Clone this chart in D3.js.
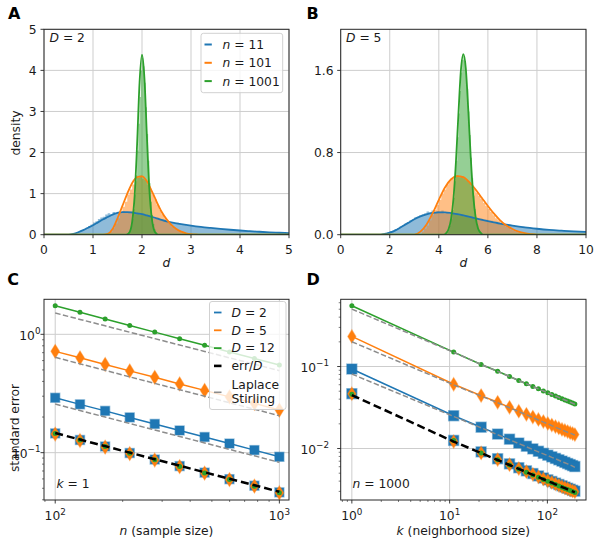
<!DOCTYPE html>
<html><head><meta charset="utf-8">
<script src="https://cdn.jsdelivr.net/npm/d3@7"></script>
<style>body{margin:0;background:#fff}svg{display:block}text{font-family:"DejaVu Sans",sans-serif}</style>
</head><body><svg id="fig" width="600" height="544"></svg>
<script>
// ---------------- DATA ----------------
// Panel A (D = 2): density curves
const aBlueD = [0,0.5,0.6,0.7,0.8,0.9,1.0,1.1,1.2,1.3,1.4,1.5,1.6,1.7,1.8,1.9,2.0,2.1,2.2,2.3,2.4,2.5,2.6,2.7,2.8,2.9,3.0,3.2,3.4,3.6,3.8,4.0,4.2,4.4,4.6,4.8,5.0];
const aBlueY = [0,0,0.02,0.06,0.11,0.17,0.23,0.30,0.37,0.43,0.49,0.53,0.55,0.55,0.54,0.52,0.50,0.468,0.435,0.40,0.36,0.325,0.30,0.277,0.256,0.237,0.22,0.19,0.165,0.142,0.121,0.102,0.086,0.072,0.059,0.048,0.038];
const aOrangeD = [0,1.2,1.3,1.4,1.5,1.6,1.7,1.8,1.9,2.0,2.1,2.2,2.3,2.4,2.5,2.6,2.7,2.8,2.9,3.0,3.1,3.2,5];
const aOrangeY = [0,0,0.02,0.14,0.40,0.70,1.00,1.26,1.40,1.42,1.30,1.06,0.80,0.56,0.38,0.24,0.14,0.075,0.035,0.015,0.005,0,0];
const aGreenD = [0,1.65,1.70,1.75,1.80,1.85,1.90,1.95,2.00,2.05,2.10,2.15,2.20,2.25,2.30,2.35,5];
const aGreenY = [0,0,0.01,0.07,0.32,0.95,2.20,3.70,4.38,3.80,2.40,1.10,0.40,0.10,0.02,0,0];
// Panel A histograms (bin start, bin width, heights)
const aHistBlueStart = 0.55, aHistBlueWidth = 0.05;
const aHistBlue = [0.01,0.03,0.05,0.08,0.10,0.14,0.17,0.21,0.25,0.30,0.33,0.38,0.42,0.44,0.49,0.52,0.50,0.55,0.53,0.56,0.54,0.57,0.53,0.55,0.52,0.55,0.50,0.52,0.48,0.49,0.46,0.47,0.43,0.44,0.40,0.41,0.37,0.36,0.34,0.33,0.30,0.31,0.28,0.29,0.26,0.25,0.25,0.23,0.22,0.23,0.20,0.21,0.19,0.18,0.19,0.17,0.17,0.16,0.15,0.16,0.14,0.14,0.13,0.13,0.12,0.12,0.11,0.11,0.10,0.10,0.09,0.09,0.085,0.08,0.08,0.075,0.07,0.07,0.065,0.06,0.06,0.055,0.05,0.05,0.048,0.045,0.042,0.04,0.038];
const aHistOrangeStart = 1.30, aHistOrangeWidth = 0.05;
const aHistOrange = [0.03,0.08,0.16,0.27,0.40,0.52,0.68,0.80,0.98,1.10,1.22,1.30,1.38,1.44,1.36,1.33,1.22,1.12,0.98,0.86,0.72,0.60,0.50,0.40,0.33,0.26,0.20,0.15,0.11,0.08,0.05,0.03,0.02,0.01];
const aHistGreenStart = 1.70, aHistGreenWidth = 0.025;
const aHistGreen = [0.03,0.06,0.12,0.22,0.38,0.62,0.98,1.45,2.05,2.70,3.35,4.00,4.30,4.10,3.70,3.10,2.45,1.80,1.25,0.80,0.48,0.26,0.13,0.06,0.02];

// Panel B (D = 5): density curves
const bBlueD = [0,1.5,1.75,2.0,2.25,2.5,2.75,3.0,3.25,3.5,3.75,4.0,4.25,4.5,4.75,5.0,5.5,6.0,6.5,7.0,7.5,8.0,8.5,9.0,9.5,10.0];
const bBlueY = [0,0,0.005,0.02,0.045,0.08,0.115,0.15,0.178,0.198,0.212,0.218,0.217,0.21,0.20,0.188,0.16,0.133,0.108,0.088,0.071,0.058,0.047,0.039,0.032,0.027];
const bOrangeD = [0,3.0,3.25,3.5,3.75,4.0,4.25,4.5,4.75,5.0,5.25,5.5,5.75,6.0,6.25,6.5,6.75,7.0,7.25,7.5,7.75,8.0,10];
const bOrangeY = [0,0,0.03,0.10,0.21,0.34,0.46,0.54,0.57,0.56,0.51,0.44,0.36,0.28,0.205,0.14,0.09,0.055,0.03,0.015,0.006,0,0];
const bGreenD = [0,4.2,4.3,4.4,4.5,4.6,4.7,4.8,4.9,5.0,5.1,5.2,5.3,5.4,5.5,5.6,5.7,5.8,10];
const bGreenY = [0,0,0.015,0.055,0.155,0.36,0.72,1.18,1.60,1.757,1.62,1.22,0.76,0.39,0.17,0.06,0.02,0,0];
const bHistBlueStart = 1.5, bHistBlueWidth = 0.1;
const bHistBlue = [0.005,0.008,0.012,0.02,0.025,0.035,0.04,0.055,0.065,0.08,0.09,0.11,0.12,0.14,0.15,0.17,0.175,0.19,0.20,0.21,0.225,0.215,0.235,0.22,0.23,0.225,0.235,0.21,0.22,0.205,0.215,0.20,0.205,0.19,0.195,0.18,0.185,0.17,0.175,0.16,0.165,0.15,0.155,0.14,0.145,0.13,0.135,0.12,0.125,0.11,0.115,0.10,0.105,0.095,0.09,0.092,0.082,0.085,0.075,0.078,0.07,0.068,0.065,0.06,0.062,0.055,0.057,0.05,0.052,0.047,0.045,0.046,0.041,0.042,0.038,0.039,0.035,0.036,0.033,0.033,0.031,0.03,0.029,0.028,0.027];
const bHistOrangeStart = 3.2, bHistOrangeWidth = 0.1;
const bHistOrange = [0.01,0.03,0.06,0.09,0.14,0.19,0.24,0.29,0.34,0.40,0.44,0.49,0.52,0.55,0.54,0.58,0.56,0.57,0.55,0.53,0.51,0.47,0.45,0.41,0.38,0.35,0.31,0.28,0.25,0.22,0.19,0.16,0.14,0.12,0.10,0.08,0.065,0.05,0.04,0.03,0.022,0.015,0.01,0.006];
const bHistGreenStart = 4.3, bHistGreenWidth = 0.05;
const bHistGreen = [0.01,0.03,0.05,0.09,0.15,0.24,0.36,0.52,0.72,0.95,1.18,1.40,1.58,1.70,1.74,1.69,1.58,1.42,1.20,0.97,0.75,0.55,0.38,0.25,0.16,0.09,0.05,0.03,0.01];

// Panel C (k = 1): standard error vs sample size n
const cN = [100,129,167,215,278,359,464,599,774,1000];
const cD2 = [0.291,0.256,0.2255,0.1986,0.1749,0.154,0.1356,0.1194,0.1051,0.0923];
const cD5 = [0.718,0.633,0.557,0.491,0.433,0.381,0.336,0.296,0.261,0.229];
const cD12 = [1.745,1.535,1.35,1.187,1.044,0.918,0.807,0.71,0.625,0.55];
const cLap2 = [0.2575,0.227,0.2001,0.1764,0.1555,0.1371,0.1209,0.1066,0.094,0.0828];
const cLap5 = [0.639,0.563,0.496,0.437,0.385,0.34,0.30,0.264,0.233,0.205];
const cLap12 = [1.514,1.337,1.18,1.042,0.92,0.812,0.717,0.633,0.559,0.493];
const cErrD = [0.1465,0.129,0.1136,0.1,0.0881,0.0776,0.0683,0.0602,0.053,0.0467];
const cScaled2 = [0.1455,0.128,0.1128,0.0993,0.0875,0.077,0.0678,0.0597,0.0526,0.0462];
const cScaled5 = [0.1436,0.1266,0.1114,0.0982,0.0866,0.0762,0.0672,0.0592,0.0522,0.0458];
const cScaled12 = [0.1454,0.1279,0.1125,0.0989,0.087,0.0765,0.0673,0.0592,0.0521,0.0458];

// Panel D (n = 1000): standard error vs neighborhood size k
const dK = [1,11,21,31,41,51,61,71,81,91,101,111,121,131,141,151,161,171,181,191];
const dD2 = [0.0932,0.0251,0.0182,0.015,0.013,0.01166,0.01067,0.00989,0.00926,0.00873,0.00829,0.00791,0.00757,0.00728,0.00702,0.00678,0.00656,0.00637,0.00619,0.00603];
const dD5 = [0.233,0.0608,0.0442,0.0366,0.0318,0.0285,0.0261,0.0242,0.0226,0.0213,0.0202,0.0193,0.0185,0.0178,0.0171,0.0166,0.0161,0.0156,0.0152,0.0148];
const dD12 = [0.551,0.150,0.106,0.0875,0.0755,0.0675,0.0616,0.0571,0.0534,0.0504,0.0479,0.0456,0.0437,0.042,0.0405,0.0391,0.0379,0.0368,0.0358,0.0348];
const dLap2 = [0.081,0.0246,0.0179,0.0147,0.0128,0.0115,0.0105,0.0097,0.0091,0.0086,0.0082,0.0078,0.0075,0.0072,0.0069,0.0067,0.0065,0.0063,0.0061,0.0059];
const dLap5 = [0.2005,0.0598,0.0436,0.0361,0.0314,0.0282,0.0258,0.0239,0.0223,0.021,0.02,0.019,0.0182,0.0175,0.0169,0.0163,0.0158,0.0154,0.015,0.0146];
const dLap12 = [0.502,0.149,0.106,0.0872,0.0756,0.0675,0.0616,0.057,0.0533,0.0503,0.0478,0.0456,0.0437,0.042,0.0404,0.039,0.0378,0.0367,0.0357,0.0347];
const dErrD = [0.0449,0.01215,0.0088,0.00724,0.00629,0.00564,0.00516,0.00478,0.00448,0.00422,0.00401,0.00383,0.00366,0.00352,0.00339,0.00328,0.00318,0.00308,0.003,0.00292];
const dScaled2 = [0.0466,0.01255,0.0091,0.0075,0.0065,0.00583,0.00534,0.00495,0.00463,0.00437,0.00415,0.00396,0.00379,0.00364,0.00351,0.00339,0.00328,0.00319,0.0031,0.00302];
const dScaled5 = [0.0466,0.01216,0.00884,0.00732,0.00636,0.0057,0.00522,0.00484,0.00452,0.00426,0.00404,0.00386,0.0037,0.00356,0.00342,0.00332,0.00322,0.00312,0.00304,0.00296];
const dScaled12 = [0.0459,0.0125,0.00883,0.00729,0.00629,0.00563,0.00513,0.00476,0.00445,0.0042,0.00399,0.0038,0.00364,0.0035,0.00338,0.00326,0.00316,0.00307,0.00298,0.0029];

// tick labels
const aXTicks = [0,1,2,3,4,5], aYTicks = [0,1,2,3,4,5];
const bXTicks = [0,2,4,6,8,10], bYTicks = [0,0.8,1.6], bYLabels = ["0.0","0.8","1.6"];
const cXTicks = [100,1000], cXExp = ["2","3"], cYTicks = [0.1,1], cYExp = ["\u22121","0"];
const dXTicks = [1,10,100], dXExp = ["0","1","2"], dYTicks = [0.01,0.1], dYExp = ["\u22122","\u22121"];
const legendA = ["11","101","1001"];
const legendC = ["2","5","12"];

// ---------------- DRAWING ----------------
const svg = d3.select("#fig");
const C0="#1f77b4", C1="#ff7f0e", C2="#2ca02c", GRAY="#8c8c8c", INK="#1a1a1a", GRID="#cdcdcd";
const FS = 12.3;
const cols = [C0,C1,C2];

const boxA = {x0:44, x1:289, y0:29.3, y1:234.7};
const boxB = {x0:340.7, x1:586, y0:29.3, y1:234.7};
const boxC = {x0:44, x1:289, y0:299.3, y1:500};
const boxD = {x0:340.7, x1:586, y0:299.3, y1:500};

const xA = d3.scaleLinear([0,5],[boxA.x0,boxA.x1]), yA = d3.scaleLinear([0,5],[boxA.y1,boxA.y0]);
const xB = d3.scaleLinear([0,10],[boxB.x0,boxB.x1]), yB = d3.scaleLinear([0,2.0],[boxB.y1,boxB.y0]);
const xC = d3.scaleLog([10**1.95,10**3.043],[boxC.x0,boxC.x1]), yC = d3.scaleLog([10**-1.40,10**0.296],[boxC.y1,boxC.y0]);
const xD = d3.scaleLog([10**-0.114,10**2.395],[boxD.x0,boxD.x1]), yD = d3.scaleLog([10**-2.628,10**-0.180],[boxD.y1,boxD.y0]);

let clipId = 0;
function makeClip(box){
  const id = "clip"+(clipId++);
  svg.append("clipPath").attr("id",id).append("rect").attr("x",box.x0).attr("y",box.y0).attr("width",box.x1-box.x0).attr("height",box.y1-box.y0);
  return svg.append("g").attr("clip-path",`url(#${id})`);
}
function grid(box,x,y,xv,yv){
  const g = svg.append("g");
  xv.forEach(v=>g.append("line").attr("x1",x(v)).attr("x2",x(v)).attr("y1",box.y0).attr("y2",box.y1).attr("stroke",GRID).attr("stroke-width",1));
  yv.forEach(v=>g.append("line").attr("y1",y(v)).attr("y2",y(v)).attr("x1",box.x0).attr("x2",box.x1).attr("stroke",GRID).attr("stroke-width",1));
}
function frame(box){
  svg.append("rect").attr("x",box.x0).attr("y",box.y0).attr("width",box.x1-box.x0).attr("height",box.y1-box.y0)
    .attr("fill","none").attr("stroke","#262626").attr("stroke-width",1);
}
function xTick(box,x,v,len,w){
  svg.append("line").attr("x1",x(v)).attr("x2",x(v)).attr("y1",box.y1).attr("y2",box.y1+len).attr("stroke","#262626").attr("stroke-width",w);
}
function yTick(box,y,v,len,w){
  svg.append("line").attr("y1",y(v)).attr("y2",y(v)).attr("x1",box.x0).attr("x2",box.x0-len).attr("stroke","#262626").attr("stroke-width",w);
}
function txt(x,y,anchor){
  return svg.append("text").attr("x",x).attr("y",y).attr("text-anchor",anchor||"start").attr("font-size",FS).attr("fill",INK);
}
function powLabel(t,exp){
  t.append("tspan").text("10");
  t.append("tspan").attr("dy",-5.5).attr("font-size",8.8).text(exp);
}
function mathLabel(t,v,rest){
  t.append("tspan").attr("font-style","italic").text(v);
  t.append("tspan").text(rest);
}
function minorLogs(domain){
  const out=[]; const lo=Math.floor(Math.log10(domain[0])), hi=Math.ceil(Math.log10(domain[1]));
  for(let e=lo;e<=hi;e++) for(let m=2;m<=9;m++){const v=m*10**e; if(v>=domain[0]&&v<=domain[1]) out.push(v);}
  return out;
}
function hist(g,x,y,start,w,vals,color){
  const pts = vals.map((v,i)=>[start+i*w,v]); pts.push([start+vals.length*w,0]);
  const area = d3.area().x(d=>x(d[0])).y0(y(0)).y1(d=>y(d[1])).curve(d3.curveStepAfter);
  g.append("path").attr("d",area(pts)).attr("fill",color).attr("fill-opacity",0.5);
}
function curve(g,x,y,ds,vs,color,w){
  const line = d3.line().x((d,i)=>x(ds[i])).y(d=>y(d)).curve(d3.curveMonotoneX);
  g.append("path").attr("d",line(vs)).attr("fill","none").attr("stroke",color).attr("stroke-width",w||1.8);
}
function seriesLine(g,x,y,xs,vs,color,w,dash){
  const line = d3.line().x((d,i)=>x(xs[i])).y(d=>y(d));
  const p = g.append("path").attr("d",line(vs)).attr("fill","none").attr("stroke",color).attr("stroke-width",w);
  if(dash) p.attr("stroke-dasharray",dash);
}
function markers(g,x,y,xs,vs,shape,sz){
  vs.forEach((v,i)=>{
    const cx=x(xs[i]), cy=y(v);
    if(shape==="square"){
      g.append("rect").attr("x",cx-sz).attr("y",cy-sz).attr("width",2*sz).attr("height",2*sz)
        .attr("fill",C0).attr("stroke","rgba(31,119,180,0.45)").attr("stroke-width",1.4);
    } else if(shape==="diamond"){
      const a=sz*0.62, b=sz;
      g.append("path").attr("d",`M${cx},${cy-b}L${cx+a},${cy}L${cx},${cy+b}L${cx-a},${cy}Z`)
        .attr("fill",C1).attr("stroke","rgba(255,127,14,0.5)").attr("stroke-width",1.2);
    } else {
      g.append("circle").attr("cx",cx).attr("cy",cy).attr("r",sz).attr("fill",C2);
    }
  });
}
function panelLetter(s,x,y){
  svg.append("text").attr("x",x).attr("y",y).attr("font-size",16).attr("font-weight","bold").attr("fill","#000").text(s);
}

// ---- Panel A ----
grid(boxA,xA,yA,aXTicks,aYTicks);
{
  const g = makeClip(boxA);
  hist(g,xA,yA,aHistBlueStart,aHistBlueWidth,aHistBlue,C0);
  hist(g,xA,yA,aHistOrangeStart,aHistOrangeWidth,aHistOrange,C1);
  hist(g,xA,yA,aHistGreenStart,aHistGreenWidth,aHistGreen,C2);
  curve(g,xA,yA,aBlueD,aBlueY,C0);
  curve(g,xA,yA,aOrangeD,aOrangeY,C1);
  curve(g,xA,yA,aGreenD,aGreenY,C2);
}
aXTicks.forEach(v=>{xTick(boxA,xA,v,3.5,0.9); txt(xA(v),253.5,"middle").text(v);});
aYTicks.forEach(v=>{yTick(boxA,yA,v,3.5,0.9); txt(36.5,yA(v)+4.4,"end").text(v);});
mathLabel(txt(49.5,41.7),"D"," = 2");
// legend A
svg.append("rect").attr("x",201).attr("y",33.3).attr("width",81.7).attr("height",59.4).attr("rx",2.5)
  .attr("fill","#fff").attr("fill-opacity",0.8).attr("stroke","#cccccc").attr("stroke-width",0.9);
legendA.forEach((s,i)=>{
  const cy = 44.5 + i*18.3;
  svg.append("line").attr("x1",204.5).attr("x2",211.8).attr("y1",cy).attr("y2",cy).attr("stroke",cols[i]).attr("stroke-width",2);
  mathLabel(txt(222.5,cy+4.4),"n"," = "+s);
});
frame(boxA);
txt(boxA.x0+(boxA.x1-boxA.x0)/2,267,"middle").attr("font-style","italic").text("d");
svg.append("text").attr("transform","translate(19.5,133) rotate(-90)").attr("text-anchor","middle").attr("font-size",FS).attr("fill",INK).text("density");
panelLetter("A",8,19.3);

// ---- Panel B ----
grid(boxB,xB,yB,bXTicks,bYTicks);
{
  const g = makeClip(boxB);
  hist(g,xB,yB,bHistBlueStart,bHistBlueWidth,bHistBlue,C0);
  hist(g,xB,yB,bHistOrangeStart,bHistOrangeWidth,bHistOrange,C1);
  hist(g,xB,yB,bHistGreenStart,bHistGreenWidth,bHistGreen,C2);
  curve(g,xB,yB,bBlueD,bBlueY,C0);
  curve(g,xB,yB,bOrangeD,bOrangeY,C1);
  curve(g,xB,yB,bGreenD,bGreenY,C2);
}
bXTicks.forEach(v=>{xTick(boxB,xB,v,3.5,0.9); txt(xB(v),253.5,"middle").text(v);});
bYTicks.forEach((v,i)=>{yTick(boxB,yB,v,3.5,0.9); txt(333.5,yB(v)+4.4,"end").text(bYLabels[i]);});
mathLabel(txt(346,41.7),"D"," = 5");
frame(boxB);
txt(boxB.x0+(boxB.x1-boxB.x0)/2,267,"middle").attr("font-style","italic").text("d");
panelLetter("B",306.5,19.3);

// ---- Panel C ----
grid(boxC,xC,yC,cXTicks,cYTicks);
{
  const g = makeClip(boxC);
  const sets = [[cD2,cLap2,"square",4.5,C0],[cD5,cLap5,"diamond",6.8,C1],[cD12,cLap12,"circle",2.5,C2]];
  sets.forEach(s=>{
    seriesLine(g,xC,yC,cN,s[0],s[4],1.5);
    markers(g,xC,yC,cN,s[0],s[2],s[3]);
    seriesLine(g,xC,yC,cN,s[1],GRAY,1.5,"5.5,2.4");
  });
  markers(g,xC,yC,cN,cScaled2,"square",4.5);
  markers(g,xC,yC,cN,cScaled5,"diamond",6.8);
  markers(g,xC,yC,cN,cScaled12,"circle",2.5);
  seriesLine(g,xC,yC,cN,cErrD,"#000",2.5,"8,4");
}
cXTicks.forEach((v,i)=>{xTick(boxC,xC,v,3.5,0.9); powLabel(txt(xC(v),520,"middle"),cXExp[i]);});
minorLogs(xC.domain()).forEach(v=>xTick(boxC,xC,v,2,0.6));
cYTicks.forEach((v,i)=>{yTick(boxC,yC,v,3.5,0.9); powLabel(txt(40.5,yC(v)+5.2,"end"),cYExp[i]);});
minorLogs(yC.domain()).forEach(v=>yTick(boxC,yC,v,2,0.6));
mathLabel(txt(56.5,488.3),"k"," = 1");
// legend C
svg.append("rect").attr("x",209.5).attr("y",301.5).attr("width",76.5).attr("height",108).attr("rx",2.5)
  .attr("fill","#fff").attr("fill-opacity",0.8).attr("stroke","#cccccc").attr("stroke-width",0.9);
legendC.forEach((s,i)=>{
  const cy = 312.5 + i*17.8;
  svg.append("line").attr("x1",214).attr("x2",221.5).attr("y1",cy).attr("y2",cy).attr("stroke",cols[i]).attr("stroke-width",1.8);
  mathLabel(txt(231.5,cy+4.3),"D"," = "+s);
});
svg.append("line").attr("x1",214).attr("x2",221.5).attr("y1",365.9).attr("y2",365.9).attr("stroke","#000").attr("stroke-width",2.6);
{ const t = txt(231.5,370.2); t.append("tspan").text("err/"); t.append("tspan").attr("font-style","italic").text("D"); }
svg.append("line").attr("x1",214).attr("x2",221.5).attr("y1",392.3).attr("y2",392.3).attr("stroke",GRAY).attr("stroke-width",1.6);
txt(231.5,389).text("Laplace");
txt(231.5,402.5).text("Stirling");
frame(boxC);
mathLabel(txt(boxC.x0+(boxC.x1-boxC.x0)/2,534.5,"middle"),"n"," (sample size)");
svg.append("text").attr("transform","translate(18.5,428) rotate(-90)").attr("text-anchor","middle").attr("font-size",FS).attr("fill",INK).text("standard error");
panelLetter("C",7.3,285);

// ---- Panel D ----
grid(boxD,xD,yD,dXTicks,dYTicks);
{
  const g = makeClip(boxD);
  const sets = [[dD2,dLap2,"square",5,C0],[dD5,dLap5,"diamond",6.5,C1],[dD12,dLap12,"circle",2.5,C2]];
  sets.forEach(s=>{
    seriesLine(g,xD,yD,dK,s[0],s[4],1.5);
    markers(g,xD,yD,dK,s[0],s[2],s[3]);
    seriesLine(g,xD,yD,dK,s[1],GRAY,1.5,"5.5,2.4");
  });
  markers(g,xD,yD,dK,dScaled2,"square",5);
  markers(g,xD,yD,dK,dScaled5,"diamond",6.5);
  markers(g,xD,yD,dK,dScaled12,"circle",2.5);
  seriesLine(g,xD,yD,dK,dErrD,"#000",2.5,"8,4");
}
dXTicks.forEach((v,i)=>{xTick(boxD,xD,v,3.5,0.9); powLabel(txt(xD(v),520,"middle"),dXExp[i]);});
minorLogs(xD.domain()).forEach(v=>xTick(boxD,xD,v,2,0.6));
dYTicks.forEach((v,i)=>{yTick(boxD,yD,v,3.5,0.9); powLabel(txt(329,yD(v)+5.2,"end"),dYExp[i]);});
minorLogs(yD.domain()).forEach(v=>yTick(boxD,yD,v,2,0.6));
mathLabel(txt(352.5,488.3),"n"," = 1000");
frame(boxD);
mathLabel(txt(boxD.x0+(boxD.x1-boxD.x0)/2,534.5,"middle"),"k"," (neighborhood size)");
panelLetter("D",306.5,285);
</script></body></html>
